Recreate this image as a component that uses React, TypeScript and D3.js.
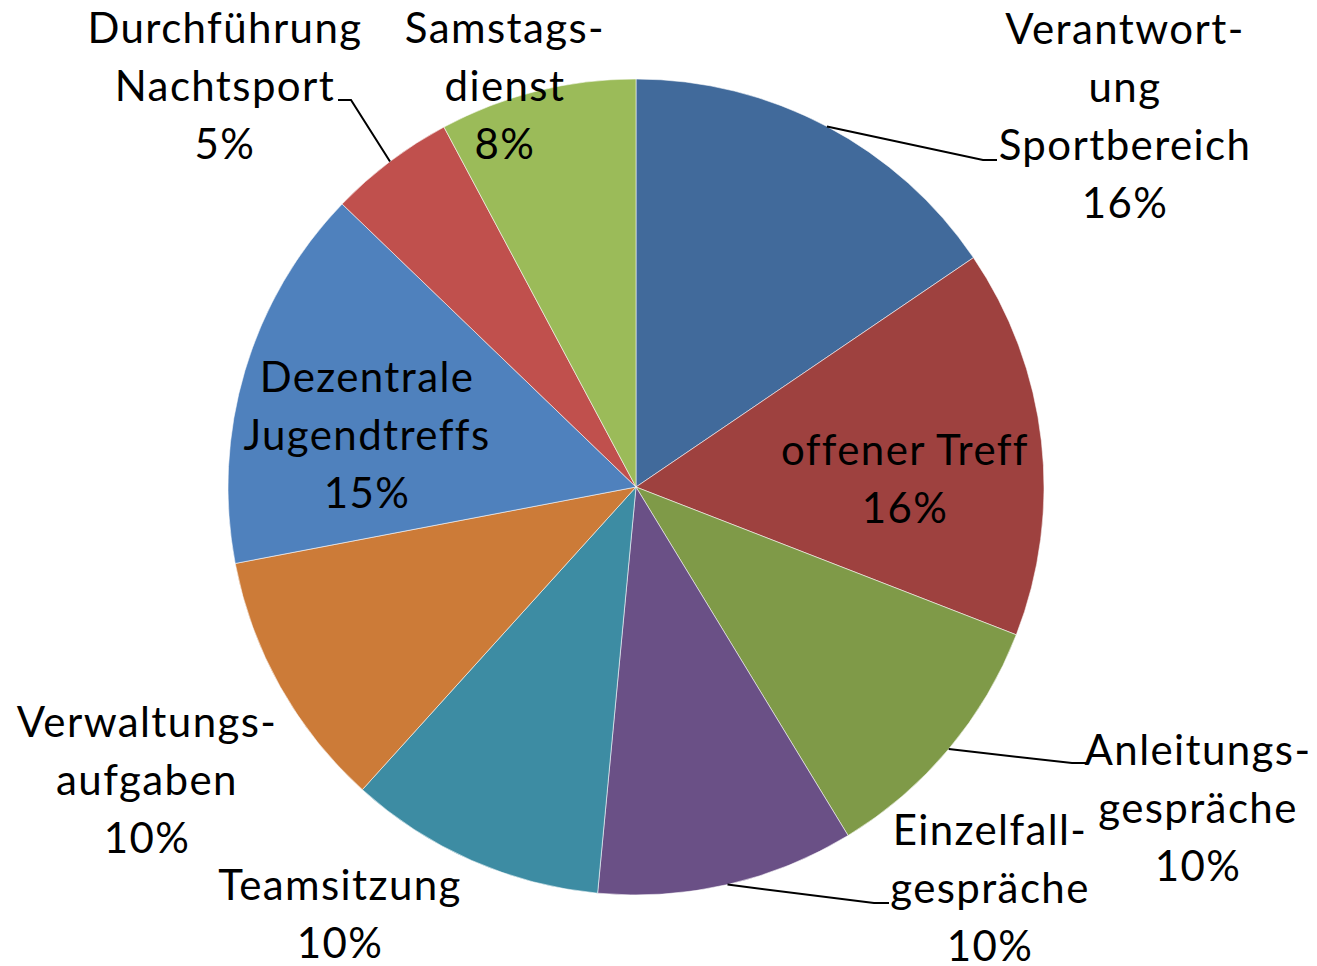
import React, { useEffect, useRef } from "react";
import * as d3 from "d3";

// slices clockwise from 12 o'clock
const categories = [
  "Verantwortung Sportbereich",
  "offener Treff",
  "Anleitungsgespräche",
  "Einzelfallgespräche",
  "Teamsitzung",
  "Verwaltungsaufgaben",
  "Dezentrale Jugendtreffs",
  "Durchführung Nachtsport",
  "Samstagsdienst",
];
const shares = [15.5, 15.4, 10.4, 10.2, 10.2, 10.3, 15.2, 5.0, 7.8];
const pctLabels = ["16%", "16%", "10%", "10%", "10%", "10%", "15%", "5%", "8%"];
const labelLines = [
  ["Verantwort-", "ung", "Sportbereich"],
  ["offener Treff"],
  ["Anleitungs-", "gespräche"],
  ["Einzelfall-", "gespräche"],
  ["Teamsitzung"],
  ["Verwaltungs-", "aufgaben"],
  ["Dezentrale", "Jugendtreffs"],
  ["Durchführung", "Nachtsport"],
  ["Samstags-", "dienst"],
];
const colors = [
  "#416a9b",
  "#9e413f",
  "#7f9a48",
  "#6a5086",
  "#3d8ca3",
  "#cc7b38",
  "#4f81bd",
  "#c0504d",
  "#9bbb59",
];

// label block: center x, first baseline y; leader: elbow point (x,y) and end x
const labelPos = [
  { x: 1125, y: 44, leader: [983, 160, 997] },
  { x: 905, y: 465 },
  { x: 1198, y: 765, leader: [1072, 763, 1086] },
  { x: 990, y: 845, leader: [874, 903, 889] },
  { x: 340, y: 900 },
  { x: 147, y: 737 },
  { x: 367, y: 392 },
  { x: 225, y: 43, leader: [351, 100, 338] },
  { x: 505, y: 43 },
];

const W = 1317;
const H = 966;
const cx = 636;
const cy = 487;
const R = 408;
const lineH = 58;

const App = () => {
  const ref = useRef<SVGSVGElement>(null);

  useEffect(() => {
    const svg = d3.select(ref.current);
    svg.selectAll("*").remove();

    const data = categories.map((c, i) => ({ name: c, value: shares[i], index: i }));
    const pie = d3
      .pie<any>()
      .sort(null)
      .value((d: any) => d.value);
    const arcs = pie(data);
    const arc = d3.arc<any>().innerRadius(0).outerRadius(R);

    const g = svg.append("g").attr("transform", `translate(${cx},${cy})`);

    g.selectAll("path")
      .data(arcs)
      .enter()
      .append("path")
      .attr("d", arc as any)
      .attr("fill", (d: any) => colors[d.index])
      .attr("stroke", "rgba(255,255,255,0.55)")
      .attr("stroke-width", 1);

    // leader lines
    arcs.forEach((a: any, i: number) => {
      const L = labelPos[i].leader;
      if (!L) return;
      const mid = (a.startAngle + a.endAngle) / 2;
      const sx = cx + R * Math.sin(mid);
      const sy = cy - R * Math.cos(mid);
      svg
        .append("polyline")
        .attr("points", `${sx},${sy} ${L[0]},${L[1]} ${L[2]},${L[1]}`)
        .attr("fill", "none")
        .attr("stroke", "#000")
        .attr("stroke-width", 2);
    });

    // labels
    arcs.forEach((a: any, i: number) => {
      const p = labelPos[i];
      const lines = [...labelLines[i], pctLabels[i]];
      const t = svg
        .append("text")
        .attr("text-anchor", "middle")
        .attr("font-family", "Lato, 'Open Sans', sans-serif")
        .attr("font-size", 42)
        .attr("letter-spacing", 1.4)
        .attr("fill", "#000");
      lines.forEach((ln, k) => {
        t.append("tspan")
          .attr("x", p.x)
          .attr("y", p.y + k * lineH)
          .text(ln);
      });
    });
  }, []);

  return (
    <svg
      ref={ref}
      width={W}
      height={H}
      style={{ position: "absolute", left: 0, top: 0, background: "#fff" }}
    />
  );
};

export default App;
